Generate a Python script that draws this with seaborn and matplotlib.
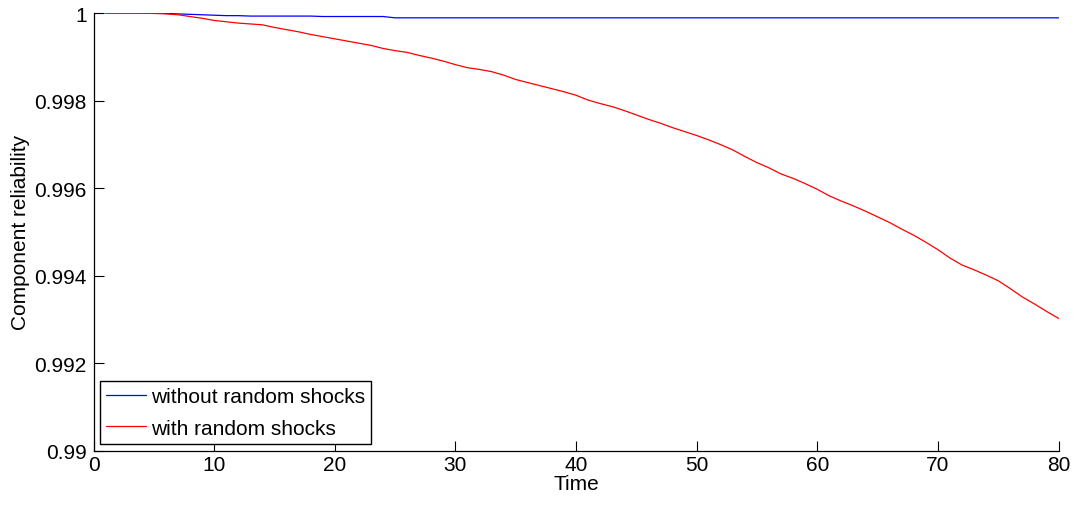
import numpy as np
import pandas as pd
import matplotlib
matplotlib.use("Agg")
import matplotlib.pyplot as plt
import seaborn as sns
from matplotlib.ticker import FuncFormatter

# time steps
time = list(range(1, 81))

# reliability without random shocks (blue)
no_shock = [
    1.0, 1.0, 1.0, 1.0, 1.0, 0.99999, 0.99998, 0.99997, 0.99996, 0.99995,
    0.99994, 0.99994, 0.99993, 0.99993, 0.99993, 0.99993, 0.99993, 0.99993, 0.99992, 0.99992,
    0.99992, 0.99992, 0.99992, 0.99992, 0.99989, 0.99989, 0.99989, 0.99989, 0.99989, 0.99989,
    0.99989, 0.99989, 0.99989, 0.99989, 0.99989, 0.99989, 0.99989, 0.99989, 0.99989, 0.99989,
    0.99989, 0.99989, 0.99989, 0.99989, 0.99989, 0.99989, 0.99989, 0.99989, 0.99989, 0.99989,
    0.99989, 0.99989, 0.99989, 0.99989, 0.99989, 0.99989, 0.99989, 0.99989, 0.99989, 0.99989,
    0.99989, 0.99989, 0.99989, 0.99989, 0.99989, 0.99989, 0.99989, 0.99989, 0.99989, 0.99989,
    0.99989, 0.99989, 0.99989, 0.99989, 0.99989, 0.99989, 0.99989, 0.99989, 0.99989, 0.99989,
]

# reliability with random shocks (red)
with_shock = [
    1.0, 1.0, 1.0, 1.0, 0.99999, 0.99998, 0.99996, 0.99992, 0.99988, 0.99983,
    0.99980, 0.99977, 0.99975, 0.99973, 0.99967, 0.99962, 0.99957, 0.99951, 0.99946, 0.99941,
    0.99936, 0.99931, 0.99926, 0.99919, 0.99914, 0.99910, 0.99903, 0.99897, 0.99890, 0.99882,
    0.99875, 0.99871, 0.99866, 0.99858, 0.99848, 0.99841, 0.99834, 0.99827, 0.99820, 0.99812,
    0.99801, 0.99793, 0.99786, 0.99777, 0.99767, 0.99757, 0.99748, 0.99738, 0.99729, 0.99720,
    0.99710, 0.99699, 0.99687, 0.99672, 0.99658, 0.99646, 0.99632, 0.99622, 0.99610, 0.99597,
    0.99582, 0.99570, 0.99559, 0.99547, 0.99534, 0.99521, 0.99506, 0.99492, 0.99476, 0.99459,
    0.99440, 0.99424, 0.99413, 0.99401, 0.99388, 0.99370, 0.99351, 0.99335, 0.99318, 0.99302,
]

series_names = ["without random shocks", "with random shocks"]
series_colors = ["#0000ff", "#ff0000"]
x_ticks = list(range(0, 81, 10))
y_ticks = [0.99, 0.992, 0.994, 0.996, 0.998, 1.0]

df = pd.concat([
    pd.DataFrame({"Time": time, "R": no_shock, "series": series_names[0]}),
    pd.DataFrame({"Time": time, "R": with_shock, "series": series_names[1]}),
])

sns.set_style("ticks")
plt.rcParams["font.family"] = ["Liberation Sans", "DejaVu Sans"]
plt.rcParams["font.size"] = 15
plt.rcParams["text.color"] = "black"
plt.rcParams["axes.labelcolor"] = "black"

fig = plt.figure(figsize=(10.75, 5.06), dpi=100)
ax = fig.add_axes([0.087, 0.1077, 0.8977, 0.8646])

sns.lineplot(
    data=df, x="Time", y="R", hue="series",
    palette=dict(zip(series_names, series_colors)),
    linewidth=0.9, ax=ax,
)

ax.set_xlim(0, 80)
ax.set_ylim(0.99, 1.0)
ax.set_xticks(x_ticks)
ax.set_yticks(y_ticks)
ax.yaxis.set_major_formatter(FuncFormatter(lambda v, p: f"{v:g}"))
ax.tick_params(direction="in", length=7, width=0.8, pad=3,
               labelsize=15, colors="black")
ax.tick_params(axis="y", pad=5)

for side in ["top", "right"]:
    ax.spines[side].set_visible(False)
for side in ["left", "bottom"]:
    ax.spines[side].set_linewidth(0.9)
    ax.spines[side].set_color("black")

ax.set_xlabel("Time", fontsize=15, labelpad=0, color="black")
ax.set_ylabel("Component reliability", fontsize=15, labelpad=3, color="black")

leg = ax.legend(
    loc="lower left", bbox_to_anchor=(0.0067, 0.0149), borderaxespad=0,
    fancybox=False, framealpha=1, edgecolor="black",
    fontsize=15, handlelength=1.9, handletextpad=0.25,
    labelspacing=0.6, borderpad=0.3,
)
leg.get_frame().set_linewidth(1.0)
for line in leg.get_lines():
    line.set_linewidth(0.9)
for txt in leg.get_texts():
    txt.set_color("black")

plt.savefig("out.png", dpi=100)
plt.close()
